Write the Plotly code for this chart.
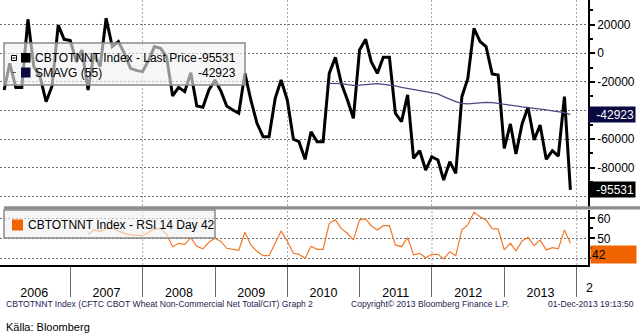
import pandas as pd
import plotly.graph_objects as go

# ---------------- data ----------------
dates = pd.date_range("2006-01-31", periods=95, freq="ME")

price = [
    -25700, -7100, -23900, -23900, 23700, -9400, -16400, -33900, -22900, 19700,
    9700, 8800, -6000, 2200, -25700, 0, -9400, 24400, 4600, 8100,
    0, -10600, -12000, -12900, -4800, 4600, 3400, -2400, -29900, -23900,
    -26900, -13600, -36900, -37800, -25700, -18700, -26900, -36900, -39700, -42000,
    -14100, -32700, -49000, -58400, -58400, -31600, -18700, -32700, -60200, -61900,
    -74200, -54900, -61900, -61900, -14100, -2900, -21100, -32700, -45500, 2200,
    9700, -5900, -14100, -2900, -2900, -42000, -47900, -29200, -73500, -68200,
    -81700, -72400, -74700, -88700, -75800, -84000, -30400, -17600, 17400, 8100,
    4600, -14500, -15200, -66500, -49500, -70500, -49500, -37800, -60700, -50200,
    -74200, -68200, -71900, -30400, -95531,
]

sma_start = 54
sma = [
    -21100, -21200, -21300, -22000, -22500, -22300, -22000, -21800, -21300, -21800,
    -22300, -22900, -23900, -24600, -25300, -26200, -26900, -27600, -28500, -30400,
    -32200, -33900, -35100, -35500, -35100, -34600, -34400, -34600, -35100, -35500,
    -36200, -36900, -37600, -38100, -38300, -38800, -39700, -40400, -41100, -41600,
    -42923,
]

rsi_start = 14
rsi = [
    52, 54.2, 53.3, 55, 55, 53.5, 52.5, 51.7, 51.5, 51.3,
    53, 54.7, 55, 52, 45.8, 47.5, 47, 50.3, 46, 44.7,
    48, 50, 48.3, 45, 44.5, 44, 53, 46.7, 43.5, 41.3,
    41.3, 48, 53.7, 48.5, 42.5, 42, 40, 46, 44.5, 44.5,
    57.5, 59.2, 54.8, 52.5, 49.2, 59.2, 59.7, 56.3, 54.2, 56.3,
    56.3, 46.7, 45.8, 50.3, 41.7, 42.5, 40.3, 42, 42, 39.7,
    43.3, 41.3, 54.2, 56.7, 63, 60.8, 59.2, 54.8, 54.6, 44.2,
    47.5, 43.7, 48.7, 50.5, 46.3, 49.2, 44.2, 45.3, 44.7, 54.2,
    47.5,
]

last_price = -95531
last_sma = -42923
last_rsi = 42

year_labels = ["2006", "2007", "2008", "2009", "2010", "2011", "2012", "2013"]
year_starts = [f"{y}-01-01" for y in range(2006, 2015)]
year_mids = [f"{y}-07-02" for y in range(2006, 2014)]
grid_years = ["2008-01-01", "2010-01-01", "2012-01-01", "2014-01-01"]

main_tickvals = [20000, 0, -20000, -40000, -60000, -80000, -100000]
main_ticktext = ["20000", "0", "-20000", "", "-60000", "-80000", ""]
rsi_tickvals = [60, 50, 40]
rsi_ticktext = ["60", "50", ""]

# ---------------- geometry ----------------
W, H = 643, 335
MR, MB = 55, 70
PW, PH = W - MR, H - MB


def px(x):
    return x / PW


def py(y):
    return (PH - y) / PH


FONT = "Liberation Sans"
x_range = ["2006-01-10", "2014-02-27"]

fig = go.Figure()
fig.add_trace(go.Scatter(x=dates, y=price, mode="lines",
                         line=dict(color="black", width=3), xaxis="x", yaxis="y",
                         hoverinfo="skip"))
fig.add_trace(go.Scatter(x=dates[sma_start:], y=sma, mode="lines",
                         line=dict(color="#4a4a80", width=1.3), xaxis="x", yaxis="y",
                         hoverinfo="skip"))
fig.add_trace(go.Scatter(x=dates[rsi_start:], y=rsi, mode="lines",
                         line=dict(color="#f07828", width=1.2), xaxis="x2", yaxis="y2",
                         hoverinfo="skip"))

grid_dash = "2px,2px"
fig.update_layout(
    width=W, height=H,
    margin=dict(l=0, r=MR, t=0, b=MB, autoexpand=False),
    paper_bgcolor="white", plot_bgcolor="white",
    showlegend=False,
    font=dict(family=FONT, size=12, color="black"),
    xaxis=dict(domain=[0, 1], anchor="y", range=x_range, type="date",
               tickmode="array", tickvals=grid_years, showticklabels=False,
               ticks="", showgrid=True, gridcolor="#a8a8a8", griddash=grid_dash,
               gridwidth=1, zeroline=False, showline=False, automargin=False),
    xaxis2=dict(domain=[0, 1], anchor="y2", range=x_range, type="date",
                tickmode="array", tickvals=year_mids, ticktext=year_labels,
                ticks="outside", ticklen=0, ticklabelstandoff=15,
                tickfont=dict(family=FONT, size=12.5, color="black"),
                showgrid=False, zeroline=False, automargin=False,
                showline=True, linecolor="black", linewidth=1.5,
                minor=dict(tickmode="array", tickvals=year_starts, ticks="outside",
                           ticklen=30, tickcolor="#6a6a6a", tickwidth=1, showgrid=False)),
    yaxis=dict(domain=[py(206.5), 1], anchor="x", side="right",
               range=[-107200, 37200], tickmode="array",
               tickvals=main_tickvals, ticktext=main_ticktext,
               ticks="outside", ticklen=5, tickwidth=2, tickcolor="black",
               tickfont=dict(family=FONT, size=12, color="black"),
               showline=True, linecolor="black", linewidth=1.5,
               showgrid=True, gridcolor="#6e6e6e", griddash=grid_dash, gridwidth=1,
               zeroline=False, automargin=False,
               minor=dict(tickmode="linear", tick0=0, dtick=10000, ticks="outside",
                          ticklen=3, tickcolor="black", showgrid=False)),
    yaxis2=dict(domain=[0, py(209.5)], anchor="x2", side="right",
                range=[36.65, 64.4], tickmode="array",
                tickvals=rsi_tickvals, ticktext=rsi_ticktext,
                ticks="outside", ticklen=5, tickwidth=2, tickcolor="black",
                tickfont=dict(family=FONT, size=12, color="black"),
                showline=True, linecolor="black", linewidth=1.5,
                showgrid=True, gridcolor="#6e6e6e", griddash=grid_dash, gridwidth=1,
                zeroline=False, automargin=False,
                minor=dict(tickmode="linear", tick0=0, dtick=5, ticks="outside",
                           ticklen=3, tickcolor="black", showgrid=False)),
)

shapes = []
# vertical 2-year gridlines in RSI panel
for g in grid_years:
    shapes.append(dict(type="line", xref="x2", yref="y2 domain", x0=g, x1=g, y0=0, y1=1,
                       line=dict(color="#a8a8a8", width=1, dash=grid_dash), layer="below"))
# separator band between panels
shapes.append(dict(type="rect", xref="paper", yref="paper", x0=px(4), x1=px(640),
                   y0=py(209.5), y1=py(206.3), fillcolor="#8c8c8c", line=dict(width=0)))
# main legend box
shapes.append(dict(type="rect", xref="paper", yref="paper", x0=px(4), x1=px(245),
                   y0=py(85), y1=py(43), fillcolor="rgba(240,240,240,0.62)",
                   line=dict(color="#8a8a8a", width=1.5)))
# legend icons
shapes.append(dict(type="rect", xref="paper", yref="paper", x0=px(11.5), x1=px(16.5),
                   y0=py(60.5), y1=py(55.5), fillcolor="white", line=dict(color="black", width=1)))
shapes.append(dict(type="line", xref="paper", yref="paper", x0=px(12.5), x1=px(15.5),
                   y0=py(58), y1=py(58), line=dict(color="black", width=1)))
shapes.append(dict(type="rect", xref="paper", yref="paper", x0=px(21), x1=px(30.5),
                   y0=py(62.5), y1=py(53), fillcolor="black", line=dict(width=0)))
shapes.append(dict(type="line", xref="paper", yref="paper", x0=px(12), x1=px(16),
                   y0=py(72.5), y1=py(72.5), line=dict(color="#555555", width=1)))
shapes.append(dict(type="rect", xref="paper", yref="paper", x0=px(21), x1=px(30.5),
                   y0=py(77.5), y1=py(67.5), fillcolor="#0a0a40", line=dict(width=0)))
# RSI legend box
shapes.append(dict(type="rect", xref="paper", yref="paper", x0=px(4), x1=px(215),
                   y0=py(238), y1=py(210), fillcolor="rgba(240,240,240,0.62)",
                   line=dict(color="#8a8a8a", width=1.5)))
shapes.append(dict(type="rect", xref="paper", yref="paper", x0=px(12), x1=px(23),
                   y0=py(230.5), y1=py(219.5), fillcolor="#f06400", line=dict(width=0)))
fig.update_layout(shapes=shapes)

ann = []


def text(x, y, s, size=12, color="black", xanchor="left", **kw):
    ann.append(dict(xref="paper", yref="paper", x=px(x), y=py(y), text=s,
                    showarrow=False, xanchor=xanchor, yanchor="middle",
                    font=dict(family=FONT, size=size, color=color), **kw))


text(33, 58.5, "CBTOTNNT Index - Last Price")
text(238, 58.5, f"{last_price}", xanchor="right")
text(33, 73, "SMAVG (55)")
text(238, 73, f"{last_sma}", xanchor="right")
text(26, 224.5, f"CBTOTNNT Index - RSI 14 Day {last_rsi}")
text(4, 303.5, "CBTOTNNT Index (CFTC CBOT Wheat Non-Commercial Net Total/CIT) Graph 2",
     size=8.6, color="#1c1c50")
text(349, 303.5, "Copyright\u00a9 2013 Bloomberg Finance L.P.", size=8.6, color="#1c1c50")
text(636, 303.5, "01-Dec-2013 19:13:50", size=8.6, color="#1c1c50", xanchor="right")
text(4, 327, "Källa: Bloomberg", size=11)
text(584, 288, "2", size=12.5)

# value boxes on right axes
ann.append(dict(xref="paper", yref="y", x=px(588), y=last_sma, text=f"{last_sma}",
                showarrow=False, xanchor="left", yanchor="middle", bgcolor="#0a0a40",
                font=dict(family=FONT, size=12, color="white"), width=44, height=13,
                align="right", borderpad=1))
ann.append(dict(xref="paper", yref="y", x=px(588), y=last_price, text=f"{last_price}",
                showarrow=False, xanchor="left", yanchor="middle", bgcolor="black",
                font=dict(family=FONT, size=12, color="white"), width=44, height=13,
                align="right", borderpad=1))
ann.append(dict(xref="paper", yref="y2", x=px(590), y=last_rsi, text=f"{last_rsi}",
                showarrow=False, xanchor="left", yanchor="middle", bgcolor="#f06400",
                font=dict(family=FONT, size=12, color="black"), width=43, height=15,
                align="left", borderpad=1))
fig.update_layout(annotations=ann)

fig.write_html("out.html")
